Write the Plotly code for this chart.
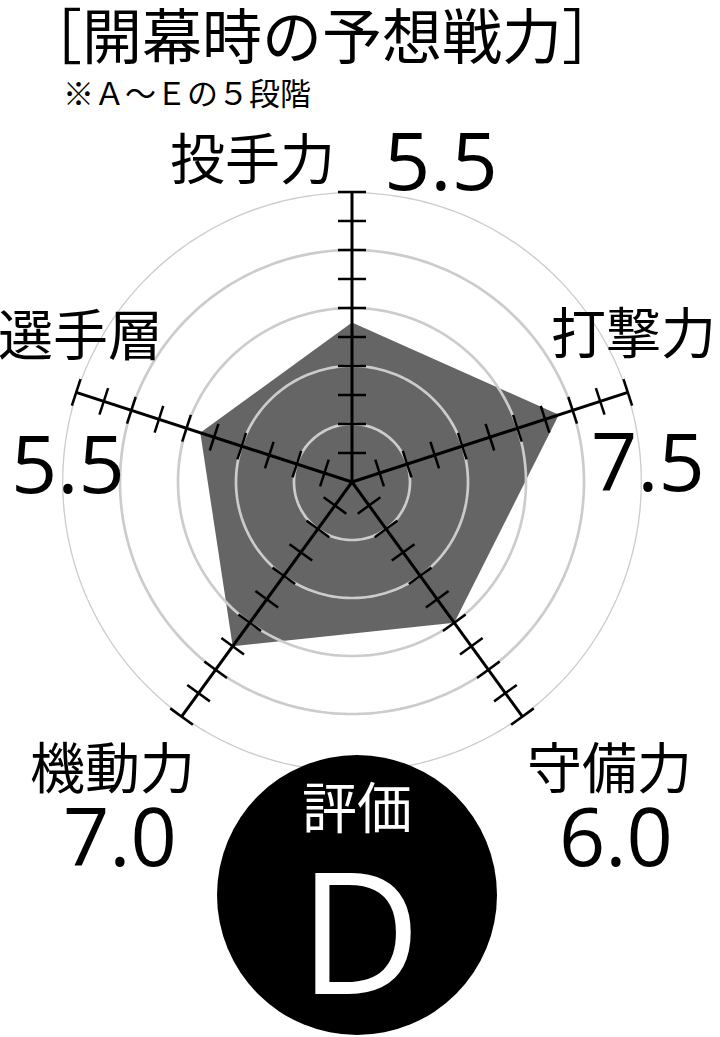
import numpy as np
import plotly.graph_objects as go

# 開幕時の予想戦力 (10点満点)
categories = ["投手力", "打撃力", "守備力", "機動力", "選手層"]
values = [5.5, 7.5, 6.0, 7.0, 5.5]
value_labels = ["5.5", "7.5", "6.0", "7.0", "5.5"]
grid_levels = [2, 4, 6, 8, 10]
tick_levels = [1, 2, 3, 4, 5, 6, 7, 8, 9, 10]
r_max = 10
grade = "D"

W, H = 720, 1037
theta = [i * 360 / len(categories) for i in range(len(categories))]

fig = go.Figure()

# filled polygon
fig.add_trace(go.Scatterpolar(
    r=values + values[:1], theta=theta + theta[:1],
    mode="lines", fill="toself", fillcolor="#656565",
    line=dict(width=0, color="#656565"), hoverinfo="skip"))

# gray rings (drawn over the fill)
ring_theta = np.linspace(0, 360, 241)
for lv in grid_levels:
    fig.add_trace(go.Scatterpolar(
        r=[lv] * len(ring_theta), theta=ring_theta, mode="lines",
        line=dict(color="#cccccc", width=2.7), hoverinfo="skip"))

# black spokes
sr, st = [], []
for t in theta:
    sr += [0, r_max, None]
    st += [t, t, None]
fig.add_trace(go.Scatterpolar(r=sr, theta=st, mode="lines",
                              line=dict(color="black", width=3), hoverinfo="skip"))

# tick marks across the spokes
tr, tt = [], []
for t in theta:
    for lv in tick_levels:
        tr.append(lv)
        tt.append(t)
fig.add_trace(go.Scatterpolar(
    r=tr, theta=tt, mode="markers",
    marker=dict(symbol="line-ew", size=20, angle=tt,
                line=dict(color="black", width=2.5)),
    hoverinfo="skip"))

cx, cy, rad = 352, 482, 290
fig.update_layout(
    width=W, height=H, showlegend=False,
    margin=dict(l=0, r=0, t=0, b=0),
    paper_bgcolor="white", plot_bgcolor="white",
    polar=dict(
        domain=dict(x=[(cx - rad) / W, (cx + rad) / W],
                    y=[1 - (cy + rad) / H, 1 - (cy - rad) / H]),
        bgcolor="white",
        radialaxis=dict(range=[0, r_max], visible=False),
        angularaxis=dict(rotation=90, direction="clockwise", thetaunit="degrees",
                         visible=False),
    ),
)

# grade badge
fig.add_shape(type="circle", xref="paper", yref="paper",
              x0=217 / W, x1=497 / W, y0=1 - 1035 / H, y1=1 - 755 / H,
              fillcolor="black", line=dict(width=0), layer="above")

jp = "Noto Sans CJK JP"
num = "Open Sans"

def ann(text, x, y, size, family, color="black"):
    fig.add_annotation(text=text, xref="paper", yref="paper",
                       x=x / W, y=1 - y / H, xanchor="center", yanchor="middle",
                       showarrow=False, font=dict(family=family, size=size, color=color))

ann("［開幕時の予想戦力］", 322, 33, 60, jp)
ann("※Ａ〜Ｅの５段階", 187, 91, 31, jp)

label_pos = [(253, 155), (633, 329), (609, 764), (112, 764), (80, 331)]
value_pos = [(441, 159), (648, 459), (616, 834), (120, 834), (68, 462)]
for name, v, (lx, ly), (vx, vy) in zip(categories, value_labels, label_pos, value_pos):
    ann(name, lx, ly, 55, jp)
    ann(v, vx, vy, 81, num)

ann("評価", 357, 804, 55, jp, "white")
ann(grade, 360, 928, 168, num, "white")

fig.write_html("out.html", config={"displayModeBar": False},
               post_script="document.body.style.margin='0';")
